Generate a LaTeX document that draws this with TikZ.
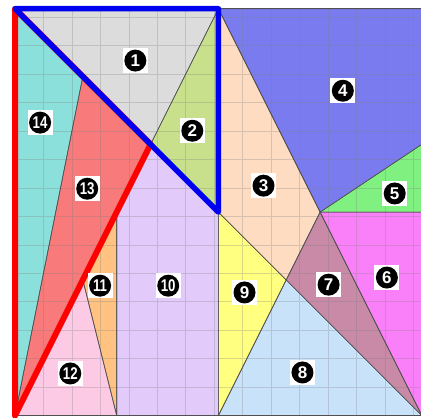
\documentclass[tikz,border=0pt]{standalone}
\usepackage{fontspec}
\setmainfont{Liberation Sans}
\definecolor{c1}{HTML}{DCDCDC}
\definecolor{c2}{HTML}{C8E08C}
\definecolor{c3}{HTML}{FDDCC2}
\definecolor{c4}{HTML}{7B7BF0}
\definecolor{c5}{HTML}{80F080}
\definecolor{c6}{HTML}{FA80FA}
\definecolor{c7}{HTML}{C88AA6}
\definecolor{c8}{HTML}{C8E2FA}
\definecolor{c9}{HTML}{FFFF80}
\definecolor{c10}{HTML}{E2CAFA}
\definecolor{c11}{HTML}{FFC280}
\definecolor{c12}{HTML}{FCCAE4}
\definecolor{c13}{HTML}{F87A7A}
\definecolor{c14}{HTML}{8CE0DC}
\definecolor{edge}{HTML}{505050}
\definecolor{redline}{HTML}{FF0000}
\definecolor{blueline}{HTML}{0000F0}
\begin{document}
\begin{tikzpicture}[x=33.9pt,y=33.9pt,
  piece/.style={draw=edge,line width=0.6pt,line join=round},
  lab/.style={rectangle,fill=white,minimum size=25pt,inner sep=0pt,text=white,
    font=\fontsize{17}{17}\selectfont\bfseries,
    path picture={\fill[black] (path picture bounding box.center) circle (11pt);}}]
\useasboundingbox (-0.4425,-0.0442) rectangle (11.976,12.257);
\begin{scope}
\clip (-0.4425,-0.0442) rectangle (11.976,12.257);
\fill[white] (-0.4425,-0.0442) rectangle (11.976,12.257);
% points
\coordinate (A) at (0,12);
\coordinate (B) at (6,12);
\coordinate (C) at (4,8);
\coordinate (D) at (6,6);
\coordinate (E) at (2,10);
\coordinate (F) at (0,0);
\coordinate (G) at (3,6);
\coordinate (H) at (3,0);
\coordinate (I) at (2,4);
\coordinate (J) at (6,0);
\coordinate (K) at (12,12);
\coordinate (L) at (9,6);
\coordinate (M) at (12,8);
\coordinate (N) at (12,6);
\coordinate (O) at (8,4);
\coordinate (P) at (12,0);
% pieces
\fill[c1] (A)--(B)--(C)--cycle;
\fill[c2] (B)--(D)--(C)--cycle;
\fill[c3] (B)--(L)--(O)--(D)--cycle;
\fill[c4] (B)--(K)--(M)--(L)--cycle;
\fill[c5] (L)--(M)--(N)--cycle;
\fill[c6] (L)--(N)--(P)--cycle;
\fill[c7] (L)--(P)--(O)--cycle;
\fill[c8] (J)--(O)--(P)--cycle;
\fill[c9] (D)--(O)--(J)--cycle;
\fill[c10] (C)--(D)--(J)--(H)--(G)--cycle;
\fill[c11] (G)--(H)--(I)--cycle;
\fill[c12] (F)--(I)--(H)--cycle;
\fill[c13] (E)--(C)--(F)--cycle;
\fill[c14] (A)--(E)--(F)--cycle;
% grid
\draw[gray,opacity=0.3,line width=0.6pt] (0,0) grid (12,12);
% outlines
\draw[piece] (A)--(B)--(C)--cycle;
\draw[piece] (B)--(D)--(C)--cycle;
\draw[piece] (B)--(L)--(O)--(D)--cycle;
\draw[piece] (B)--(K)--(M)--(L)--cycle;
\draw[piece] (L)--(M)--(N)--cycle;
\draw[piece] (L)--(N)--(P)--cycle;
\draw[piece] (L)--(P)--(O)--cycle;
\draw[piece] (J)--(O)--(P)--cycle;
\draw[piece] (D)--(O)--(J)--cycle;
\draw[piece] (C)--(D)--(J)--(H)--(G)--cycle;
\draw[piece] (G)--(H)--(I)--cycle;
\draw[piece] (F)--(I)--(H)--cycle;
\draw[piece] (E)--(C)--(F)--cycle;
\draw[piece] (A)--(E)--(F)--cycle;
\draw[piece,line width=1pt] (A) rectangle (P);
% thick outlines
\draw[redline,line width=6pt,line join=round,line cap=round] (A)--(C)--(F)--cycle;
\draw[blueline,line width=5.5pt,line join=round,line cap=round] (A)--(B)--(D)--cycle;
\end{scope}
% labels
\node[lab] (l1) at (3.55,10.47) {1};
\node[lab] (l2) at (5.23,8.40) {2};
\node[lab] (l3) at (7.33,6.78) {3};
\node[lab] (l4) at (9.67,9.58) {4};
\node[lab] (l5) at (11.2,6.55) {5};
\node[lab] (l6) at (10.97,4.07) {6};
\node[lab] (l7) at (9.25,3.86) {7};
\node[lab] (l8) at (8.48,1.27) {8};
\node[lab] (l9) at (6.77,3.63) {9};
\node[lab] (l10) at (4.52,3.83) {\scalebox{0.78}[1]{10}};
\node[lab] (l11) at (2.51,3.83) {\scalebox{0.78}[1]{11}};
\node[lab] (l12) at (1.63,1.24) {\scalebox{0.78}[1]{12}};
\node[lab] (l13) at (2.13,6.69) {\scalebox{0.78}[1]{13}};
\node[lab] (l14) at (0.74,8.64) {\scalebox{0.78}[1]{14}};
\end{tikzpicture}
\end{document}
